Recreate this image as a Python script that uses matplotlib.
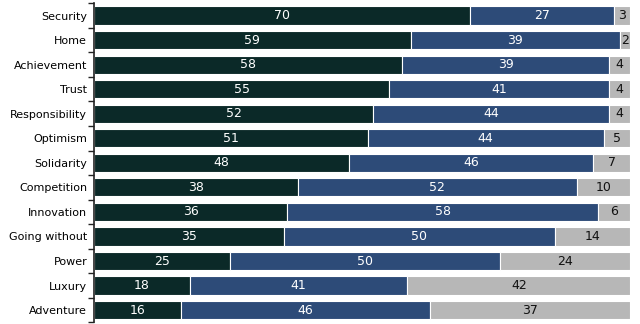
import matplotlib
matplotlib.use("Agg")
import matplotlib.pyplot as plt
import numpy as np

categories = ["Security", "Home", "Achievement", "Trust", "Responsibility",
              "Optimism", "Solidarity", "Competition", "Innovation",
              "Going without", "Power", "Luxury", "Adventure"]
part1 = [70, 59, 58, 55, 52, 51, 48, 38, 36, 35, 25, 18, 16]
part2 = [27, 39, 39, 41, 44, 44, 46, 52, 58, 50, 50, 41, 46]
part3 = [3, 2, 4, 4, 4, 5, 7, 10, 6, 14, 24, 42, 37]

colors = ["#0b2928", "#2d4b78", "#b7b7b7"]
text_colors = ["white", "white", "#111111"]

series = np.array([part1, part2, part3], dtype=float)
shares = series / series.sum(axis=0) * 100

fig = plt.figure(figsize=(6.4, 3.24), dpi=100)
ax = fig.add_axes([0.147, 0.005, 0.838, 0.985])

y = np.arange(len(categories))
left = np.zeros(len(categories))
for vals, share, col, tcol in zip(series, shares, colors, text_colors):
    ax.barh(y, share, left=left, height=0.74, color=col,
            edgecolor="white", linewidth=0.8)
    for yi, l, s, v in zip(y, left, share, vals):
        ax.text(l + s / 2, yi, f"{int(v)}", ha="center", va="center",
                color=tcol, fontsize=9)
    left += share

ax.set_xlim(0, 100)
ax.set_ylim(len(categories) - 0.5, -0.5)
ax.set_yticks(y)
ax.set_yticklabels(categories, fontsize=8)
ax.set_yticks(np.arange(-0.5, len(categories)), minor=True)
ax.tick_params(axis="y", which="major", length=0, pad=5)
ax.tick_params(axis="y", which="minor", length=4, width=1, color="#222222")
ax.set_xticks([])
for side in ["top", "right", "bottom"]:
    ax.spines[side].set_visible(False)
ax.spines["left"].set_color("#222222")
ax.spines["left"].set_linewidth(1.2)

fig.savefig("out.png", dpi=100)
